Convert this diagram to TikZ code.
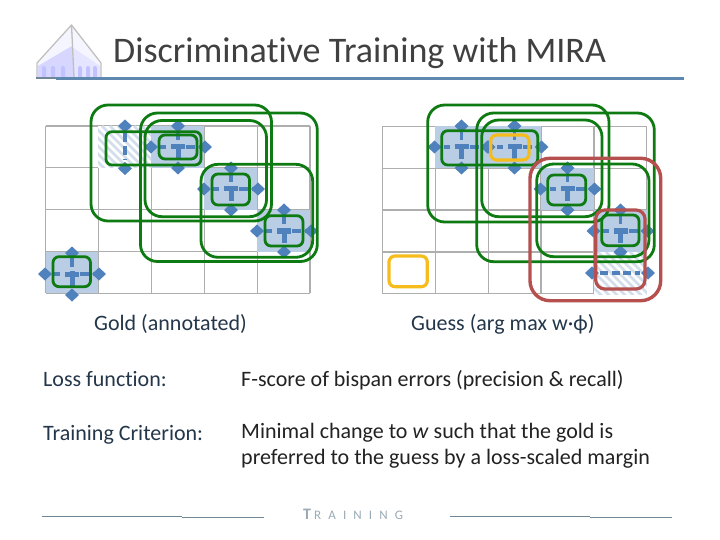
\documentclass[tikz,border=0pt]{standalone}
\usepackage{fontspec}
\setmainfont{Carlito}[Ligatures=NoCommon]
\newfontfamily\spacedfont[LetterSpace=55,Ligatures=NoCommon]{Carlito}
\definecolor{gridc}{HTML}{AEAEAE}
\definecolor{cellc}{HTML}{B9CDE4}
\definecolor{hatchc}{HTML}{D3DEEC}
\definecolor{bluem}{HTML}{4F81BD}
\definecolor{greenr}{HTML}{0E7A12}
\definecolor{redr}{HTML}{B5504F}
\definecolor{oranger}{HTML}{F6BC1C}
\definecolor{rule}{HTML}{5F88B0}
\definecolor{footc}{HTML}{6F8797}
\definecolor{labc}{HTML}{24374A}
\definecolor{bodyc}{HTML}{222222}
\tikzset{
 gridline/.style={draw=gridc,line width=1.2pt},
 outergreen/.style={draw=greenr,line width=2.8pt,rounded corners=17pt},
 innergreen/.style={draw=greenr,line width=2.8pt,rounded corners=6pt},
 orangebox/.style={draw=oranger,line width=3.2pt,rounded corners=6pt},
 redbig/.style={draw=redr,line width=3.4pt,rounded corners=20pt},
 redsmall/.style={draw=redr,line width=3.2pt,rounded corners=9pt},
 segthin/.style={draw=bluem,line width=3.6pt},
 segthick/.style={draw=bluem,line width=5pt},
 diam/.style={fill=bluem},
 body/.style={anchor=base west,inner sep=0pt,font=\fontsize{22}{26}\selectfont,text=bodyc},
 lab/.style={anchor=base west,inner sep=0pt,font=\fontsize{22}{26}\selectfont,text=labc},
}
\newcommand{\dmd}[2]{\fill[diam] (#1-7,#2) -- (#1,#2-6.5) -- (#1+7,#2) -- (#1,#2+6.5) -- cycle;}
\newcommand{\vdmds}[2]{\dmd{#1}{#2-21}\dmd{#1}{#2+21}}
\newcommand{\hdmds}[2]{\dmd{#1-27}{#2}\dmd{#1+27}{#2}}
\newcommand{\hsegs}[2]{%
 \draw[segthin] (#1-26,#2) -- (#1-22,#2) (#1-18,#2) -- (#1-12,#2) (#1+8,#2) -- (#1+17,#2) (#1+21,#2) -- (#1+25,#2);
 \draw[segthick] (#1-7,#2) -- (#1+7,#2);}
\newcommand{\vsegs}[2]{%
 \draw[segthin] (#1,#2-16) -- (#1,#2-7);
 \draw[segthick] (#1,#2-3) -- (#1,#2+12);}
\newcommand{\fullbisp}[2]{\vdmds{#1}{#2}\hdmds{#1}{#2}\hsegs{#1}{#2}\vsegs{#1}{#2}}
\newcommand{\cellfill}[4]{\fill[cellc] (#1,#2) rectangle (#3,#4);}
\newcommand{\hatchcell}[4]{%
 \begin{scope}
 \clip (#1,#2) rectangle (#3,#4);
 \foreach \k in {-6,-5,...,13}{\draw[hatchc,line width=2.6pt] (#1+\k*8-44,#2) -- ++(70,70);}
 \end{scope}}
\newcommand{\gridat}[3]{%
 \foreach \i in {0,...,5}{\draw[gridline] ({#1+\i*52.9},#2) -- ({#1+\i*52.9},#3);}
 \foreach \j in {0,...,4}{\draw[gridline] (#1,{#2+\j*41.8}) -- (#1+264.5,{#2+\j*41.8});}}
\begin{document}
\begin{tikzpicture}[x=1pt,y=-1pt]
\useasboundingbox (0,0) rectangle (720,540);
\fill[white] (0,0) rectangle (720,540);
% logo
\fill[blue!4!white] (38,64) -- (71.5,26) -- (100,64) -- (100,77) -- (38,77) -- cycle;
\fill[blue!10!white] (72,47) -- (100,66) -- (100,77) -- (74,77) -- cycle;
\fill[blue!16!white] (38,66) -- (72,46) -- (74,77) -- (38,77) -- cycle;
\foreach \wx in {44,53,63,80,88,95}{\fill[blue!24!white] (\wx-2,77) -- (\wx-2,68) arc (180:360:2) -- (\wx+2,77) -- cycle;}
\draw[gray!50,line width=1.3pt,line join=round] (37,77) -- (37,63) -- (71.5,25) -- (101,63) -- (101,77);
\draw[gray!50,line width=1.3pt] (71.5,25) -- (74,77);
% title rule
\draw[footc,line width=1.6pt] (36,78) -- (56,78);
\draw[rule,line width=2.6pt] (56,78.3) -- (684,78.3);
\node[anchor=base west,inner sep=0pt,font=\fontsize{36}{42}\selectfont,text=black!75] (title) at (113,63) {Discriminative Training with MIRA};
% left grid
\gridat{45.5}{126}{293}
\cellfill{151}{126}{204}{168}
\cellfill{204}{168}{257}{210}
\cellfill{257}{210}{309.5}{252}
\cellfill{45.5}{252}{98}{293}
\fill[white] (98,126) rectangle (151,168);
\hatchcell{98}{126}{151}{168}
\dmd{125}{126}\dmd{125}{168.5}
\draw[segthin,line width=4pt,dash pattern=on 9pt off 4pt] (125,133) -- (125,160);
\fullbisp{178}{147}
\fullbisp{231}{189}
\fullbisp{284}{231}
\fullbisp{72}{274}
\draw[outergreen] (91,105) rectangle (271.5,221);
\draw[outergreen] (140.5,113) rectangle (317.3,261.5);
\draw[outergreen] (145,120.5) rectangle (266.5,216.7);
\draw[outergreen] (201,164.3) rectangle (312.7,257.3);
\draw[innergreen] (106,131.7) rectangle (201,165);
\draw[innergreen] (159,135) rectangle (197,159);
\draw[innergreen] (212,174) rectangle (249.5,205);
\draw[innergreen] (265,215.7) rectangle (303,246);
\draw[innergreen] (53,256.7) rectangle (90.5,286.7);
% right grid
\gridat{382.3}{126.5}{293.5}
\cellfill{435}{126.5}{541}{168}
\cellfill{541}{168}{594}{210}
\cellfill{594}{210}{646.8}{252}
\fill[white] (594,252) rectangle (646.8,294);
\hatchcell{594}{252}{646.8}{294}
\fullbisp{461.5}{147}
\fullbisp{514.5}{147}
\fullbisp{567.5}{189}
\fullbisp{620.5}{231}
\dmd{592}{273}\dmd{648}{273}
\draw[segthin,dash pattern=on 8pt off 3.5pt] (600,273) -- (640,273);
\draw[outergreen] (427.7,105) rectangle (609,222);
\draw[outergreen] (476.7,113) rectangle (654.3,261.7);
\draw[outergreen] (481.7,120) rectangle (602,216.7);
\draw[outergreen] (536.7,164) rectangle (649,256.7);
\draw[innergreen] (441.7,130.7) rectangle (537.7,165);
\draw[innergreen] (547.7,175) rectangle (585.7,205);
\draw[innergreen] (601.7,215) rectangle (639,245.7);
\draw[orangebox] (490.7,135) rectangle (529,160);
\draw[orangebox] (389,256) rectangle (427.3,286.7);
\draw[redbig] (530,158.3) rectangle (660.7,300.7);
\draw[redsmall] (595.7,210) rectangle (645,289);
% captions
\node[lab] (gold) at (94,330) {Gold (annotated)};
\node[lab] (guess) at (411,330) {Guess (arg max w·ϕ)};
\node[lab] (loss) at (43,386) {Loss function:};
\node[lab] (crit) at (43,440) {Training Criterion:};
\node[body] (f) at (241,386) {F-score of bispan errors (precision \& recall)};
\node[body] (m1) at (241,438) {Minimal change to \textit{w} such that the gold is};
\node[body] (m2) at (241,464) {preferred to the guess by a loss-scaled margin};
% footer
\draw[footc,line width=1pt] (42,516) -- (182,516);
\draw[footc,line width=1pt] (182,517) -- (264,517);
\draw[footc,line width=1pt] (450,516) -- (590,516);
\draw[footc,line width=1pt] (590,517) -- (672,517);
\node[anchor=base west,inner sep=0pt,text=footc!70!white] (foot) at (303,519) {{\fontsize{16}{18}\bfseries\selectfont T}\hspace{3pt}{\spacedfont\fontsize{13}{15}\selectfont RAINING}};
\end{tikzpicture}
\end{document}
